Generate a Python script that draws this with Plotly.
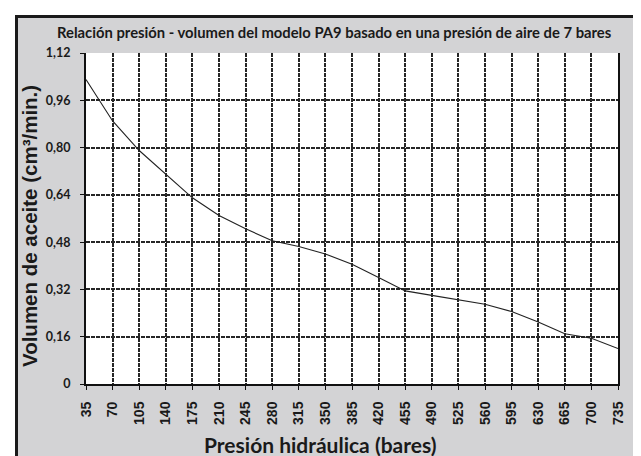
import plotly.graph_objects as go

pressure = [35, 70, 105, 140, 175, 210, 245, 280, 315, 350, 385, 420, 455, 490, 525, 560, 595, 630, 665, 700, 735]
volume = [1.03, 0.89, 0.79, 0.71, 0.63, 0.57, 0.525, 0.485, 0.465, 0.44, 0.405, 0.36, 0.315, 0.30, 0.285, 0.27, 0.245, 0.21, 0.17, 0.155, 0.12]
y_tickvals = [0, 0.16, 0.32, 0.48, 0.64, 0.80, 0.96, 1.12]
y_ticktext = ["0", "0,16", "0,32", "0,48", "0,64", "0,80", "0,96", "1,12"]

title_text = "Relación presión - volumen del modelo PA9 basado en una presión de aire de 7 bares"
x_title = "Presión hidráulica (bares)"
y_title = "Volumen de aceite (cm³/min.)"

W, H = 641, 456
L, R, T, B = 78, 31, 45, 80
pw, ph = W - L - R, H - T - B

def px(xpix):
    return (xpix - L) / pw

def py(ypix):
    return (H - B - ypix) / ph

NARROW = "Lato, Roboto, sans-serif"
WIDE = "Liberation Sans, Arial, sans-serif"
BG = "#d3d3d5"

fig = go.Figure()
fig.add_trace(go.Scatter(x=pressure, y=volume, mode="lines",
                         line=dict(color="#222222", width=1.1), showlegend=False,
                         cliponaxis=False))

grid = dict(showgrid=True, gridcolor="#262626", gridwidth=2, griddash="4px,1px")

fig.update_xaxes(range=[35, 735], tickvals=pressure, ticktext=[str(p) for p in pressure],
                 tickangle=-90, ticks="outside", ticklen=4, tickcolor="#111",
                 ticklabelstandoff=6,
                 showline=True, linecolor="#111", linewidth=2, zeroline=False,
                 tickfont=dict(family=WIDE, size=14, color="#1a1a1a", weight="bold"),
                 **grid)
fig.update_yaxes(range=[0, 1.12], tickvals=y_tickvals, ticktext=y_ticktext,
                 ticks="outside", ticklen=4, tickcolor="#111",
                 ticklabelstandoff=7,
                 showline=True, mirror=True, linecolor="#111", linewidth=2, zeroline=False,
                 tickfont=dict(family=NARROW, size=12.5, color="#1a1a1a", weight="bold"),
                 **grid)

shapes = [
    dict(type="rect", xref="paper", yref="paper", x0=px(-5), x1=px(W + 5), y0=py(-5), y1=py(7),
         fillcolor="white", line=dict(width=0), layer="above"),
    dict(type="rect", xref="paper", yref="paper", x0=px(-5), x1=px(7), y0=py(-5), y1=py(H + 5),
         fillcolor="white", line=dict(width=0), layer="above"),
    dict(type="line", xref="paper", yref="paper", x0=px(8), x1=px(W + 5), y0=py(8.5), y1=py(8.5),
         line=dict(color="#1a1a1a", width=3), layer="above"),
    dict(type="line", xref="paper", yref="paper", x0=px(8.5), x1=px(8.5), y0=py(7), y1=py(H + 5),
         line=dict(color="#1a1a1a", width=3), layer="above"),
]

annotations = [
    dict(text=f"<b>{title_text}</b>", xref="paper", yref="paper", x=px(326), y=py(24),
         xanchor="center", yanchor="middle", showarrow=False,
         font=dict(family=NARROW, size=14.8, color="#1a1a1a")),
    dict(text=f"<b>{x_title}</b>", xref="paper", yref="paper", x=px(312), y=py(436),
         xanchor="center", yanchor="middle", showarrow=False,
         font=dict(family=NARROW, size=21, color="#1a1a1a")),
    dict(text=f"<b>{y_title}</b>", xref="paper", yref="paper", x=px(21), y=py(218),
         xanchor="center", yanchor="middle", showarrow=False, textangle=-90,
         font=dict(family=WIDE, size=20.5, color="#1a1a1a")),
]

fig.update_layout(width=W, height=H, margin=dict(l=L, r=R, t=T, b=B, autoexpand=False),
                  paper_bgcolor=BG, plot_bgcolor="white",
                  shapes=shapes, annotations=annotations)

fig.write_html("out.html")
